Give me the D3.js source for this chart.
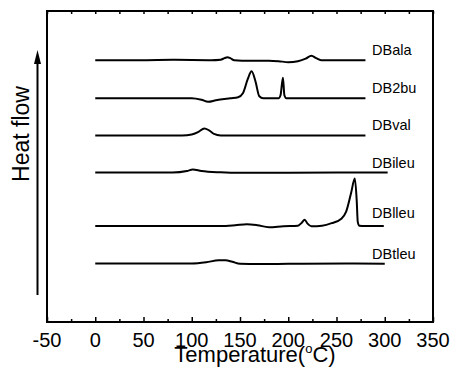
<!DOCTYPE html>
<html>
<head>
<meta charset="utf-8">
<style>
    body { margin: 0; background: #fff; }
    svg text { font-family: "Liberation Sans", Arial, sans-serif; fill: #000; }
    .frame { fill: none; stroke: #000; stroke-width: 2; }
    .curve { fill: none; stroke: #000; stroke-width: 2; stroke-linejoin: round; }
</style>
</head>
<body>
<div id="chart"></div>
<script src="https://cdn.jsdelivr.net/npm/d3@7"></script>
<script>
// series names, top to bottom
var names = ["DBala", "DB2bu", "DBval", "DBileu", "DBlleu", "DBtleu"];

// [temperature (°C), heat flow (a.u., already stacked)]
var dbala = [[0,26.1],[50,26.1],[80,26.13],[120,26.1],[130,26.15],[134,26.3],[137,26.4],[140,26.3],[144,26.1],
    [160,26.05],[180,26.05],[190,26.0],[200,25.9],[210,26.0],[218,26.25],[224,26.55],[229,26.3],[234,26.1],
    [250,26.1],[280,26.1]];
var db2bu = [[0,22.3],[100,22.3],[110,22.15],[117,21.95],[125,22.1],[140,22.3],[148,22.4],[153,22.8],[158,24.2],
    [162,25.0],[166,24.0],[170,22.5],[174,22.3],[190,22.3],[192,22.6],[194.5,24.35],[196,22.6],[198,22.3],[280,22.3]];
var dbval = [[0,18.6],[90,18.6],[100,18.7],[107,18.95],[113,19.3],[118,19.1],[123,18.75],[130,18.6],[280,18.6]];
var dbileu = [[0,14.9],[80,14.9],[95,15.05],[101,15.2],[110,15.05],[130,14.92],[150,14.87],[200,14.88],[303,14.9]];
var dblleu = [[0,9.57],[130,9.57],[145,9.65],[157,9.75],[168,9.65],[180,9.45],[195,9.55],[210,9.6],[214,9.9],
    [217,10.2],[220,9.8],[224,9.55],[235,9.6],[245,9.85],[255,10.3],[260,11.0],[265,12.8],[269,14.3],[271,12.0],
    [272,10.0],[273.5,9.6],[280,9.57],[299,9.57]];
var dbtleu = [[0,5.83],[100,5.83],[115,5.95],[128,6.15],[135,6.15],[142,6.0],[150,5.8],[170,5.78],[200,5.8],
    [260,5.83],[300,5.8]];
var series = [dbala, db2bu, dbval, dbileu, dblleu, dbtleu];

var xTicks = [-50, 0, 50, 100, 150, 200, 250, 300, 350];
var xMinor = [-25, 25, 75, 125, 175, 225, 275, 325];

var width = 457, height = 370;
var padLeft = 47, padRight = 433, padTop = 11, padBottom = 322;

var svg = d3.select("#chart").append("svg")
    .attr("width", width)
    .attr("height", height);

var x = d3.scaleLinear().domain([-50, 350]).range([padLeft, padRight]);
var y = d3.scaleLinear().domain([0, 31]).range([padBottom, padTop]);

// ticks inside the frame, bottom and top
svg.append("g").attr("transform", "translate(0," + padBottom + ")")
    .call(d3.axisBottom(x).tickValues(xTicks).tickSize(-5).tickFormat(""))
    .call(function (g) { g.select(".domain").remove(); });
svg.append("g").attr("transform", "translate(0," + padBottom + ")")
    .call(d3.axisBottom(x).tickValues(xMinor).tickSize(-3).tickFormat(""))
    .call(function (g) { g.select(".domain").remove(); });
svg.append("g").attr("transform", "translate(0," + padTop + ")")
    .call(d3.axisTop(x).tickValues(xTicks.concat(xMinor)).tickSize(-3).tickFormat(""))
    .call(function (g) { g.select(".domain").remove(); });
svg.selectAll(".tick line").attr("stroke", "#000").attr("stroke-width", 1.5);

// tick labels
svg.append("g").selectAll("text")
    .data(xTicks)
    .enter().append("text")
    .attr("x", function (d) { return x(d); })
    .attr("y", 347)
    .attr("text-anchor", "middle")
    .style("font-size", "20px")
    .text(function (d) { return d; });

// frame
svg.append("rect").attr("class", "frame")
    .attr("x", padLeft).attr("y", padTop)
    .attr("width", padRight - padLeft).attr("height", padBottom - padTop);

// curves
var line = d3.line()
    .x(function (d) { return x(d[0]); })
    .y(function (d) { return y(d[1]); })
    .curve(d3.curveMonotoneX);

svg.append("g").selectAll("path")
    .data(series)
    .enter().append("path")
    .attr("class", "curve")
    .attr("d", line);

// series labels
svg.append("g").selectAll("text")
    .data(series)
    .enter().append("text")
    .attr("x", 372)
    .attr("y", function (d, i) { return y(d[0][1]) - (i == 4 ? 8 : 5); })
    .style("font-size", "14.5px")
    .text(function (d, i) { return names[i]; });

// axis title
var title = svg.append("text")
    .attr("x", 255)
    .attr("y", 362)
    .attr("text-anchor", "middle")
    .style("font-size", "22px");
title.append("tspan").text("Temperature(");
title.append("tspan").attr("dy", -9).style("font-size", "13px").text("o");
title.append("tspan").attr("dy", 9).text("C)");

// heat flow arrow
svg.append("line")
    .attr("x1", 37.5).attr("x2", 37.5)
    .attr("y1", 295).attr("y2", 60)
    .attr("stroke", "#000").attr("stroke-width", 2);
svg.append("path")
    .attr("d", "M37.5,50 L34,64 L41,64 Z")
    .attr("fill", "#000");

svg.append("text")
    .attr("transform", "translate(29,134) rotate(-90)")
    .attr("text-anchor", "middle")
    .style("font-size", "23px")
    .text("Heat flow");
</script>
</body>
</html>
